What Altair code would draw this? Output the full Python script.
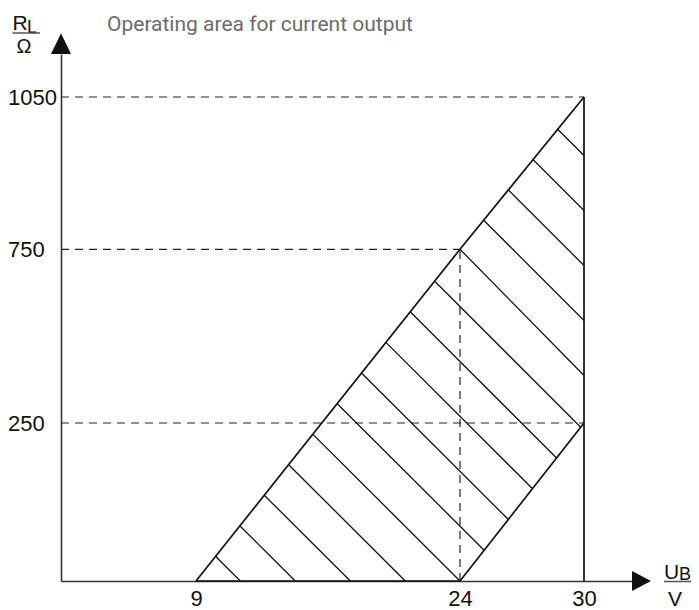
import altair as alt
import pandas as pd

# ---- data ----
# axis tick values
x_ticks = [9, 24, 30]            # U_B / V
y_ticks = [250, 750, 1050]       # R_L / Ohm

# outline of the operating area (segments)
edge_x1 = [9, 24, 30, 30, 9]
edge_y1 = [0, 750, 1050, 250, 0]
edge_x2 = [24, 30, 30, 24, 24]
edge_y2 = [750, 1050, 0, 0, 0]

# dashed guide lines
guide_x1 = [0, 0, 0, 24]
guide_y1 = [1050, 750, 250, 0]
guide_x2 = [30, 24, 30, 24]
guide_y2 = [1050, 750, 250, 750]

# hatch segments inside the area
hatch_x1 = [10.12, 11.50, 12.89, 14.28, 15.66, 17.04, 18.43, 19.82, 21.20, 22.59, 24.0, 25.16, 26.34, 27.52, 28.70]
hatch_y1 = [38.9, 87.1, 135.4, 183.6, 231.6, 304.5, 392.6, 480.7, 568.7, 656.8, 750.0, 806.7, 867.0, 927.3, 987.5]
hatch_x2 = [11.52, 14.64, 17.77, 20.89, 24.0, 25.17, 26.34, 27.51, 28.67, 29.84, 30.0, 30.0, 30.0, 30.0, 30.0]
hatch_y2 = [0.0, 0.0, 0.0, 0.0, 0.0, 48.7, 97.3, 146.0, 194.7, 243.3, 386.7, 545.1, 703.4, 826.4, 934.8]

# ---- chart ----
W, H = 571, 527
FONT = "Liberation Sans, Arial, sans-serif"

x_scale = alt.Scale(domain=[0, 9, 24, 30, 33], range=[0, 135, 399, 523, W], zero=False, nice=False)
y_scale = alt.Scale(domain=[0, 250, 750, 1050, 1200], range=[H, 369, 195.3, 43, 0], zero=False, nice=False)

x_axis = alt.Axis(values=x_ticks, title=None, grid=False, ticks=False, tickSize=0, format="d",
                  domainColor="#333333", domainWidth=1.6, labelFont=FONT, labelFontSize=22,
                  labelColor="#111111", labelPadding=7, labelFlush=False, labelOverlap=False, labelAngle=0)
y_axis = alt.Axis(values=y_ticks, title=None, grid=False, ticks=False, tickSize=0, format="d",
                  domainColor="#333333", domainWidth=1.6, labelFont=FONT, labelFontSize=22,
                  labelColor="#111111", labelPadding=53.5, labelAlign="left", labelBaseline="middle",
                  labelFlush=False, labelOverlap=False)

edges = pd.DataFrame({"x1": edge_x1, "y1": edge_y1, "x2": edge_x2, "y2": edge_y2})
guides = pd.DataFrame({"x1": guide_x1, "y1": guide_y1, "x2": guide_x2, "y2": guide_y2})
hatch = pd.DataFrame({"x1": hatch_x1, "y1": hatch_y1, "x2": hatch_x2, "y2": hatch_y2})


def seg_enc():
    return dict(
        x=alt.X("x1:Q", scale=x_scale, axis=x_axis),
        y=alt.Y("y1:Q", scale=y_scale, axis=y_axis),
        x2="x2:Q",
        y2="y2:Q",
    )


guide_layer = alt.Chart(guides).mark_rule(color="#222222", strokeWidth=1.2, strokeDash=[8, 6]).encode(**seg_enc())
hatch_layer = alt.Chart(hatch).mark_rule(color="#111111", strokeWidth=1.3).encode(**seg_enc())
edge_layer = alt.Chart(edges).mark_rule(color="#111111", strokeWidth=1.7).encode(**seg_enc())

one = pd.DataFrame({"k": [0]})

arrow_up = alt.Chart(one).mark_point(shape="M-1,0L0,-2.07L1,0Z", size=400, filled=True,
                                      color="#111111", opacity=1).encode(x=alt.value(0), y=alt.value(0))
arrow_right = alt.Chart(one).mark_point(shape="M0,-1L1.9,0L0,1Z", size=400, filled=True,
                                         color="#111111", opacity=1).encode(x=alt.value(W), y=alt.value(H))

def txt(text, x, y, size, align="left", color="#111111", font=FONT):
    return alt.Chart(one).mark_text(text=text, font=font, fontSize=size, align=align,
                                    baseline="alphabetic", color=color).encode(x=alt.value(x), y=alt.value(y))

def frac_line(x1, x2, y):
    return alt.Chart(one).mark_rule(color="#555555", strokeWidth=1.5).encode(
        x=alt.value(x1), x2=alt.value(x2), y=alt.value(y))

title = txt("Operating area for current output", 46, -23.5, 21, color="#6b6b6b", font="Roboto, sans-serif")

rl = [txt("R", -48.5, -24, 21), txt("L", -34, -21.5, 18), frac_line(-48.5, -21, -21),
      txt("Ω", -37, -1.5, 20, align="center")]
ub = [txt("U", 603, 524.5, 21), txt("B", 618, 526, 18), frac_line(603, 630, 527.5),
      txt("V", 614, 552, 21, align="center")]

chart = alt.layer(
    guide_layer, hatch_layer, edge_layer, arrow_up, arrow_right, title, *rl, *ub
).properties(
    width=W, height=H,
    autosize=alt.AutoSizeParams(type="none"),
    padding={"left": 53, "top": 46, "right": 59, "bottom": 32},
    background="white",
).configure_view(stroke=None)

chart.save("out.html", embed_options={"renderer": "svg", "actions": False})
